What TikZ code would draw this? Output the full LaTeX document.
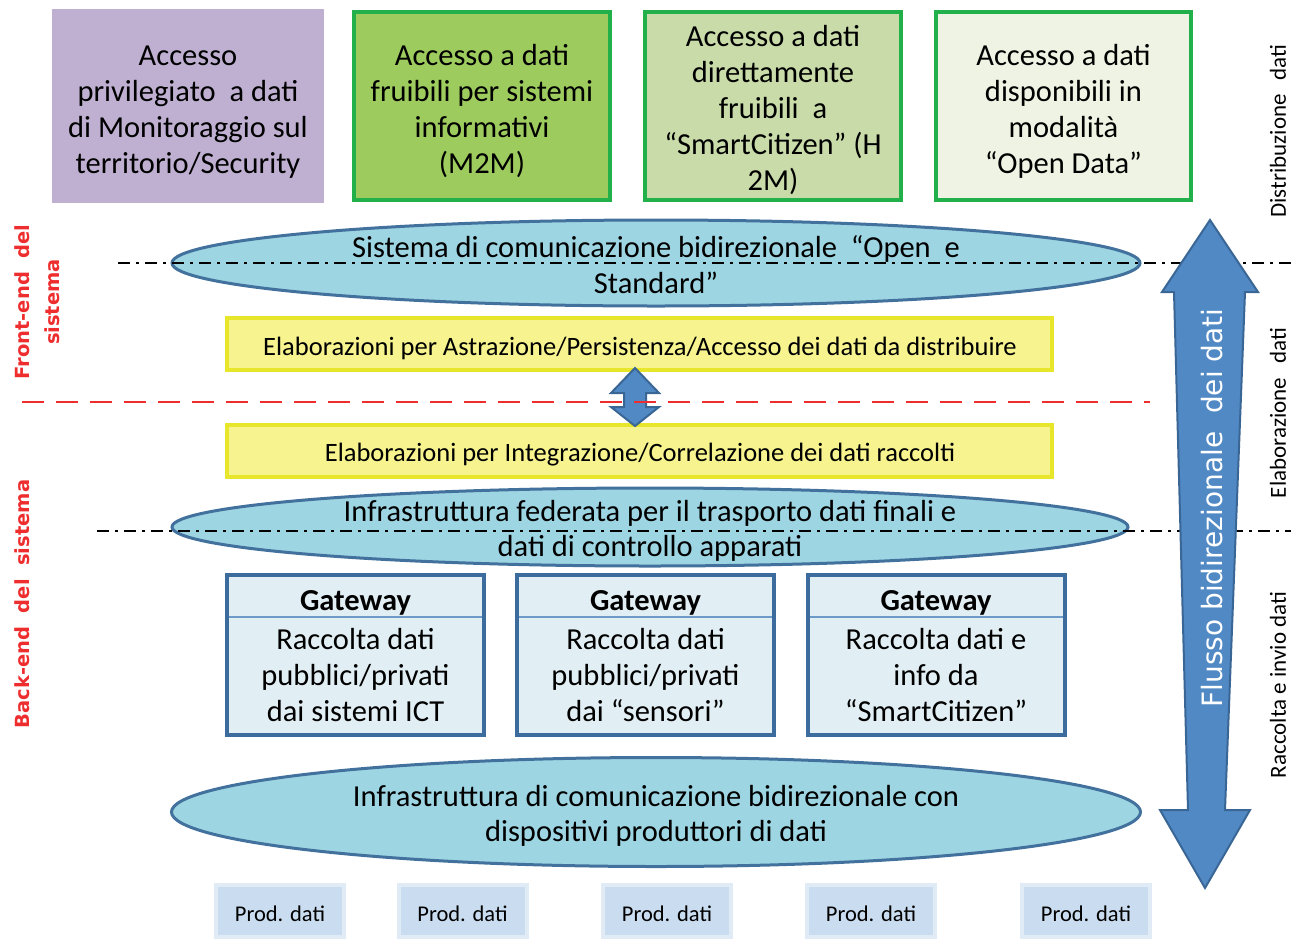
\documentclass[tikz,border=0pt]{standalone}
\usepackage{fontspec}
\setmainfont{Carlito}
\newfontfamily\dejavu{DejaVu Sans}
\usetikzlibrary{shapes.geometric}
\definecolor{purplefill}{HTML}{BFB0D2}
\definecolor{boxgreen}{HTML}{22B04B}
\definecolor{greenA}{HTML}{9DCB5E}
\definecolor{greenB}{HTML}{C8DBA9}
\definecolor{greenC}{HTML}{EEF3E3}
\definecolor{ellfill}{HTML}{9DD5E3}
\definecolor{elldraw}{HTML}{41719C}
\definecolor{yelfill}{HTML}{F7F48F}
\definecolor{yeldraw}{HTML}{E8E62A}
\definecolor{gwdraw}{HTML}{3C6B9E}
\definecolor{gwfill}{HTML}{E1EEF3}
\definecolor{gwsep}{HTML}{6D9BC9}
\definecolor{arrfill}{HTML}{5189C5}
\definecolor{arrdraw}{HTML}{3A6695}
\definecolor{prodfill}{HTML}{CADDF0}
\definecolor{proddraw}{HTML}{E0EBF6}
\definecolor{labred}{HTML}{EE2E2E}
\tikzset{
  topbox/.style={rectangle, inner sep=0pt, minimum width=256pt, minimum height=188pt,
     draw=boxgreen, line width=4pt},
  toptext/.style={inner sep=0pt, align=center, font=\fontsize{30.5}{36}\selectfont},
  sidelab/.style={rotate=90, inner sep=0pt, font=\fontsize{23}{27}\selectfont},
  redlab/.style={rotate=90, inner sep=0pt, align=center, text=labred,
     font=\dejavu\bfseries\fontsize{19.5}{30}\selectfont},
  ellbox/.style={ellipse, draw=elldraw, fill=ellfill, line width=3pt, inner sep=0pt},
  elltext/.style={inner sep=0pt, align=center, font=\fontsize{30.5}{36}\selectfont},
  yelbox/.style={rectangle, draw=yeldraw, fill=yelfill, line width=4pt, inner sep=0pt,
     minimum width=825pt, minimum height=52pt},
  yeltext/.style={inner sep=0pt, font=\fontsize{26.5}{30}\selectfont},
  gwbox/.style={rectangle, draw=gwdraw, fill=gwfill, line width=4pt, inner sep=0pt,
     minimum width=257pt, minimum height=160pt},
  gwhead/.style={inner sep=0pt, font=\bfseries\fontsize{30.5}{34}\selectfont},
  gwbody/.style={inner sep=0pt, align=center, font=\fontsize{30.5}{36}\selectfont},
  gwline/.style={draw=gwsep, line width=2.5pt},
  prodbox/.style={rectangle, draw=proddraw, fill=prodfill, line width=4pt, inner sep=0pt,
     minimum width=128pt, minimum height=52pt},
  prodtext/.style={inner sep=0pt, font=\fontsize{22.5}{26}\selectfont},
  dashdotline/.style={line width=2pt, dash pattern=on 12pt off 6pt on 3pt off 6pt},
  reddash/.style={draw=labred, line width=2.5pt, dash pattern=on 22pt off 12pt},
  fatarrow/.style={fill=arrfill, draw=arrdraw, line width=2pt, line join=miter}
}
\begin{document}
\begin{tikzpicture}[x=1pt,y=-1pt]
\useasboundingbox (0,0) rectangle (1291,938);

% top boxes
\node[rectangle, fill=purplefill, inner sep=0pt, minimum width=272pt, minimum height=194pt] (b1) at (188,106) {};
\node[topbox, fill=greenA] (b2) at (482,106) {};
\node[topbox, fill=greenB] (b3) at (773,106) {};
\node[topbox, fill=greenC, minimum width=255pt] (b4) at (1063.5,106) {};
\node[toptext] (b1t) at (188,112) {Accesso\\privilegiato \ a dati\\di Monitoraggio sul\\territorio/Security};
\node[toptext] (b2t) at (482,111) {Accesso a dati\\fruibili per sistemi\\informativi\\(M2M)};
\node[toptext] (b3t) at (773,110) {Accesso a dati\\direttamente\\fruibili \ a\\“SmartCitizen” (H\\2M)};
\node[toptext] (b4t) at (1063.5,111) {Accesso a dati\\disponibili in\\modalità\\“Open Data”};

% right side labels
\node[sidelab] (sdist) at (1278,131) {Distribuzione\hspace{14pt}dati};
\node[sidelab] (selab) at (1278,413) {Elaborazione\hspace{14pt}dati};
\node[sidelab] (srac) at (1278,685) {Raccolta e invio dati};

% left side labels
\node[redlab] (lfront) at (37,302) {Front-end \ del\\sistema};
\node[redlab] (lback) at (22,604) {Back-end \ del \ sistema};

% ellipses
\node[ellbox, minimum width=968pt, minimum height=86pt] (e1) at (656,263) {};
\node[ellbox, minimum width=956pt, minimum height=78pt] (e2) at (650,527) {};
\node[ellbox, minimum width=969pt, minimum height=109pt] (e3) at (656,812) {};

% dash-dot lines
\coordinate (d1a) at (118,263);
\coordinate (d1b) at (1291,263);
\coordinate (d2a) at (97,531);
\coordinate (d2b) at (1291,531);
\draw[dashdotline] (d1a) -- (d1b);
\draw[dashdotline] (d2a) -- (d2b);

\node[elltext] (e1t) at (656,265) {Sistema di comunicazione bidirezionale \ “Open \ e\\Standard”};
\node[elltext, font=\fontsize{30.5}{35}\selectfont] (e2t) at (650,530.5) {Infrastruttura federata per il trasporto dati finali e\\dati di controllo apparati};
\node[elltext, font=\fontsize{30.5}{35}\selectfont] (e3t) at (656,815.5) {Infrastruttura di comunicazione bidirezionale con\\dispositivi produttori di dati};

% yellow boxes
\node[yelbox] (y1) at (639.5,344) {};
\node[yelbox] (y2) at (639.5,451) {};
\node[yeltext] (y1t) at (640,348) {Elaborazioni per Astrazione/Persistenza/Accesso dei dati da distribuire};
\node[yeltext] (y2t) at (640,455) {Elaborazioni per Integrazione/Correlazione dei dati raccolti};

% small double arrow
\draw[fatarrow] (635,368) -- (659,393) -- (646,393) -- (646,407) -- (659,407) -- (635,426)
  -- (611,407) -- (624,407) -- (624,393) -- (611,393) -- cycle;

% red dashed line
\coordinate (r1) at (22,402);
\coordinate (r2) at (1150,402);
\draw[reddash] (r1) -- (r2);

% gateways
\foreach \n/\cx/\body in {1/355.5/{Raccolta dati\\pubblici/privati\\dai sistemi ICT},
                          2/645.5/{Raccolta dati\\pubblici/privati\\dai “sensori”},
                          3/936/{Raccolta dati e\\info da\\“SmartCitizen”}}{
  \node[gwbox] (g\n) at (\cx,655) {};
  \node[gwhead] (g\n h) at (\cx,603) {Gateway};
  \node[gwbody] (g\n b) at (\cx,675) {\body};
  \coordinate (g\n l) at ([xshift=4pt]g\n.west |- 0,617);
  \coordinate (g\n r) at ([xshift=-4pt]g\n.east |- 0,617);
  \draw[gwline] (g\n l) -- (g\n r);
}

% producers
\foreach \n/\cx in {1/280,2/462.5,3/667,4/871,5/1086}{
  \node[prodbox] (p\n) at (\cx,911) {};
  \node[prodtext] (p\n t) at (\cx,914) {Prod. dati};
}

% big double arrow
\draw[fatarrow] (1210,220) -- (1258,292) -- (1245,292) -- (1225,810) -- (1250,810)
  -- (1205,888) -- (1160,810) -- (1188,810) -- (1174,292) -- (1162,292) -- cycle;
\node[rotate=90, inner sep=0pt, text=white, font=\dejavu\fontsize{28}{32}\selectfont] (flow)
  at (1212,508) {Flusso bidirezionale \ dei dati};
\end{tikzpicture}
\end{document}
